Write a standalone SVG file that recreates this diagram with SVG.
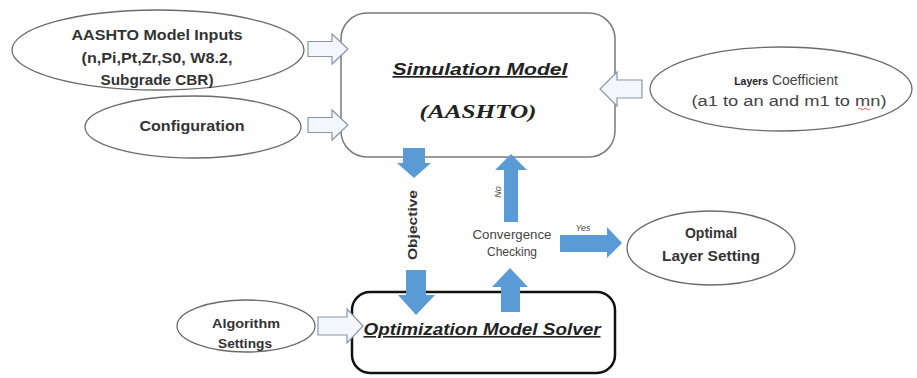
<svg xmlns="http://www.w3.org/2000/svg" width="917" height="378" viewBox="0 0 917 378">
<style>
.ell{fill:#fff;stroke:#6b6b6b;stroke-width:1.3}
.lbl{font-family:"Liberation Sans",Arial,sans-serif;font-weight:bold;fill:#333;text-anchor:middle}
.reg{font-family:"Liberation Sans",Arial,sans-serif;fill:#444;text-anchor:middle}
.title{font-family:"Liberation Sans",Arial,sans-serif;font-weight:bold;font-style:italic;fill:#222;text-anchor:middle;text-decoration:underline}
.hollow{fill:#f3f7fc;stroke:#8a96a8;stroke-width:1.2}
.blue{fill:#5b9bd5;stroke:none}
</style>
<rect width="917" height="378" fill="#fff"/>

<g id="simulation">
  <rect x="341" y="13" width="274" height="144" rx="26" ry="26" fill="#fff" stroke="#7a7a7a" stroke-width="1.5"/>
  <text class="title" x="480" y="75" font-size="17" textLength="175" lengthAdjust="spacingAndGlyphs">Simulation Model</text>
  <text x="478" y="118" font-family="'Liberation Serif','Times New Roman',serif" font-weight="bold" font-style="italic" font-size="19" fill="#222" text-anchor="middle" textLength="117" lengthAdjust="spacingAndGlyphs">(AASHTO)</text>
</g>

<g id="solver">
  <rect x="352" y="292" width="263" height="81" rx="18" ry="18" fill="#fff" stroke="#111" stroke-width="2.5"/>
  <text class="title" x="482" y="335" font-size="16" textLength="237" lengthAdjust="spacingAndGlyphs">Optimization Model Solver</text>
</g>

<g id="inputs">
  <ellipse class="ell" cx="158" cy="50" rx="146" ry="40"/>
  <text class="lbl" x="157" y="40" font-size="14" textLength="171" lengthAdjust="spacingAndGlyphs">AASHTO Model Inputs</text>
  <text class="lbl" x="157" y="63" font-size="14" textLength="151" lengthAdjust="spacingAndGlyphs">(n,Pi,Pt,Zr,S0, W8.2,</text>
  <text class="lbl" x="157" y="85" font-size="14" textLength="113" lengthAdjust="spacingAndGlyphs">Subgrade CBR)</text>
</g>

<g id="configuration">
  <ellipse class="ell" cx="193" cy="127" rx="108" ry="31"/>
  <text class="lbl" x="192" y="131" font-size="14" textLength="105" lengthAdjust="spacingAndGlyphs">Configuration</text>
</g>

<g id="layers">
  <ellipse class="ell" cx="781" cy="89" rx="131" ry="42"/>
  <text x="786" y="85" font-family="'Liberation Sans',Arial,sans-serif" font-size="14" fill="#444" text-anchor="middle"><tspan font-weight="bold" font-size="10.5" fill="#222">Layers</tspan> Coefficient</text>
  <text class="reg" x="789" y="106" font-size="14" textLength="195" lengthAdjust="spacingAndGlyphs">(a1 to an and m1 to mn)</text>
  <path d="M858,109 q1.5,-1.5 3,0 t3,0 t3,0 t3,0" fill="none" stroke="#d33" stroke-width="0.8"/>
</g>

<g id="optimal">
  <ellipse class="ell" cx="711" cy="248" rx="84" ry="37"/>
  <text class="lbl" x="711" y="238" font-size="14">Optimal</text>
  <text class="lbl" x="711" y="261" font-size="14" textLength="98" lengthAdjust="spacingAndGlyphs">Layer Setting</text>
</g>

<g id="algorithm">
  <ellipse class="ell" cx="246" cy="326" rx="69" ry="26"/>
  <text class="lbl" x="246" y="328" font-size="12.5" textLength="68" lengthAdjust="spacingAndGlyphs">Algorithm</text>
  <text class="lbl" x="245" y="348" font-size="12.5" textLength="54" lengthAdjust="spacingAndGlyphs">Settings</text>
</g>

<g id="convergence">
  <text class="reg" x="512" y="239" font-size="12" textLength="79" lengthAdjust="spacingAndGlyphs">Convergence</text>
  <text class="reg" x="512" y="256" font-size="12">Checking</text>
</g>

<g id="connectors">
  <polygon class="hollow" points="308,41.5 332,41.5 332,34 348,49 332,64 332,56.5 308,56.5"/>
  <polygon class="hollow" points="308,117.5 332,117.5 332,110 348,125 332,140 332,132.5 308,132.5"/>
  <polygon class="hollow" points="642,80 617,80 617,72 600,89 617,106 617,98 642,98"/>
  <polygon class="hollow" points="318,317 347,317 347,309 363,326 347,343 347,335 318,335"/>
  <polygon class="blue" points="403,148 425,148 425,163 431,163 414,178 397,163 403,163"/>
  <polygon class="blue" points="406,270 426,270 426,295 435,295 416,315 398,295 406,295"/>
  <polygon class="blue" points="504,222 518,222 518,170 527,170 511,154 495,170 504,170"/>
  <polygon class="blue" points="501,312 520,312 520,287 528,287 510,268 492,287 501,287"/>
  <polygon class="blue" points="560,235 607,235 607,227 622,243 607,258 607,252 560,252"/>
  <text class="lbl" font-size="12.5" transform="translate(417,225) rotate(-90)" textLength="70" lengthAdjust="spacingAndGlyphs">Objective</text>
  <text class="reg" font-size="9" font-style="italic" transform="translate(501,192) rotate(-90)" fill="#555">No</text>
  <text class="reg" x="583" y="231" font-size="9" font-style="italic" fill="#666">Yes</text>
</g>
</svg>
